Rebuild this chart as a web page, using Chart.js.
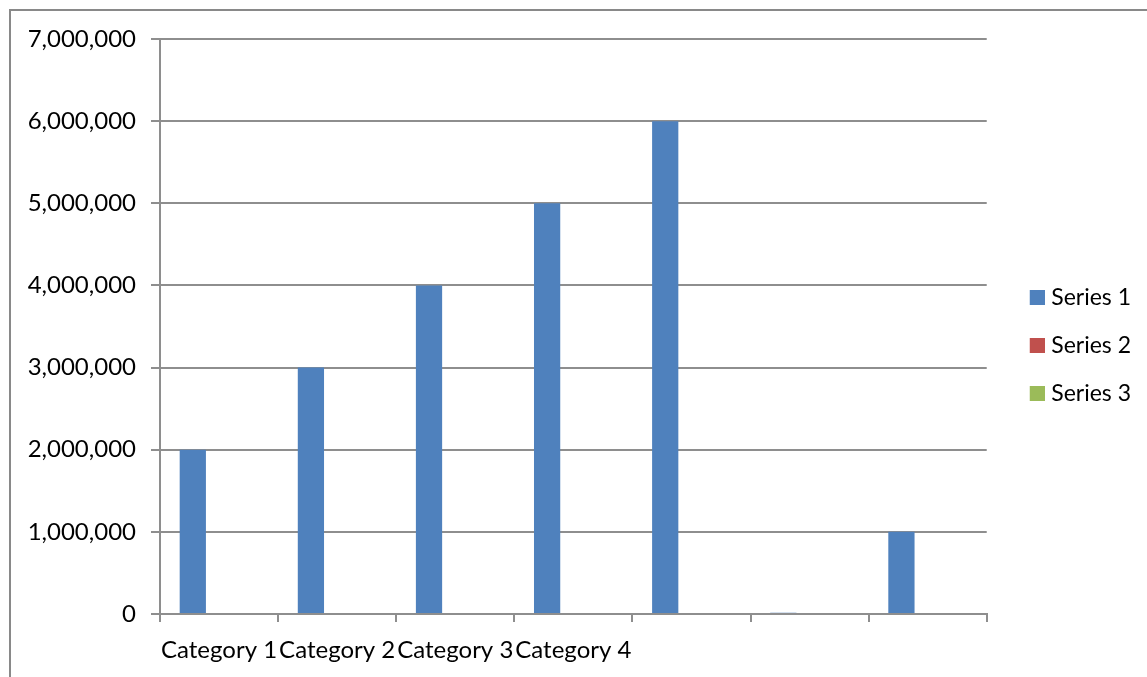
<!DOCTYPE html>
<html>
<head>
<meta charset="utf-8">
<title>Series by category</title>
<script src="https://cdn.jsdelivr.net/npm/chart.js@4.4.0/dist/chart.umd.min.js"></script>
<style>
  html, body { margin: 0; padding: 0; background: #ffffff; overflow: hidden; }
  #wrap { position: relative; width: 1147px; height: 677px; }
  #frame {
    position: absolute; left: 9px; top: 9px; width: 1200px; height: 700px;
    border-left: 2px solid #898989; border-top: 2px solid #898989;
    box-sizing: border-box; pointer-events: none;
  }
  canvas { position: absolute; left: 0; top: 0; }
</style>
</head>
<body>
<div id="wrap">
  <canvas id="chart" width="1147" height="677"></canvas>
  <div id="frame"></div>
</div>
<script>
// Category axis labels (the last three slots carry no label)
const categories = ["Category 1", "Category 2", "Category 3", "Category 4", "", "", ""];

// Series values
const series1 = [2000000, 3000000, 4000000, 5000000, 6000000, 15000, 1000000];
const series2 = [null, null, null, null, null, null, null];
const series3 = [null, null, null, null, null, null, null];

// Value axis ticks
const yTicks = [0, 1000000, 2000000, 3000000, 4000000, 5000000, 6000000, 7000000];

const seriesNames = ["Series 1", "Series 2", "Series 3"];
const seriesColors = ["#4F81BD", "#C0504D", "#9BBB59"];

const FONT = { family: "Lato, 'Liberation Sans', sans-serif", size: 24 };
const LEGEND_FONT = { family: "Lato, 'Liberation Sans', sans-serif", size: 23 };
const AXIS_GREY = "#8E8E8E";

const fmt = v => Number(v).toLocaleString("en-US");

// Legend swatch: a 15px square sitting at the right end of a wider transparent strip,
// so the square lands close to its label text.
function legendSwatch(color) {
  const c = document.createElement("canvas");
  c.width = 38;
  c.height = 16;
  const g = c.getContext("2d");
  g.fillStyle = color;
  g.fillRect(23, 0, 15, 15);
  return c;
}
const swatches = seriesColors.map(legendSwatch);

// Let the category labels use the space below the axis box so descenders are not clipped.
const labelRoom = {
  id: "labelRoom",
  afterLayout(chart) {
    chart.scales.x.bottom = chart.height;
  }
};

const datasets = [series1, series2, series3].map((data, i) => ({
  label: seriesNames[i],
  data: data,
  backgroundColor: seriesColors[i],
  borderWidth: 0,
  categoryPercentage: 3 / 4.5,
  barPercentage: 1.0
}));

new Chart(document.getElementById("chart"), {
  type: "bar",
  data: { labels: categories, datasets: datasets },
  plugins: [labelRoom],
  options: {
    responsive: false,
    animation: false,
    devicePixelRatio: 1,
    layout: { padding: { left: 10, right: 6, top: 39, bottom: 24 } },
    plugins: {
      tooltip: { enabled: false },
      legend: {
        position: "right",
        align: "center",
        labels: {
          usePointStyle: true,
          pointStyleWidth: 28,
          boxHeight: 15,
          padding: 25,
          color: "#000000",
          font: LEGEND_FONT,
          generateLabels: chart =>
            Chart.defaults.plugins.legend.labels.generateLabels(chart).map(item => ({
              ...item,
              pointStyle: swatches[item.datasetIndex]
            }))
        }
      }
    },
    scales: {
      x: {
        type: "category",
        offset: true,
        border: { display: true, color: AXIS_GREY, width: 2 },
        grid: {
          offset: true,
          drawOnChartArea: false,
          drawTicks: true,
          tickLength: 8,
          lineWidth: 2,
          color: AXIS_GREY
        },
        ticks: {
          autoSkip: false,
          maxRotation: 0,
          minRotation: 0,
          padding: 14,
          color: "#000000",
          font: FONT
        },
        afterFit: scale => { scale.height = 39; }
      },
      y: {
        min: yTicks[0],
        max: yTicks[yTicks.length - 1],
        border: { display: true, color: AXIS_GREY, width: 2 },
        grid: {
          color: AXIS_GREY,
          lineWidth: 2,
          drawTicks: true,
          tickLength: 9
        },
        afterBuildTicks: scale => { scale.ticks = yTicks.map(v => ({ value: v })); },
        ticks: {
          padding: 15,
          color: "#000000",
          font: FONT,
          callback: v => fmt(v)
        },
        afterFit: scale => { scale.width = 150; }
      }
    }
  }
});
</script>
</body>
</html>
